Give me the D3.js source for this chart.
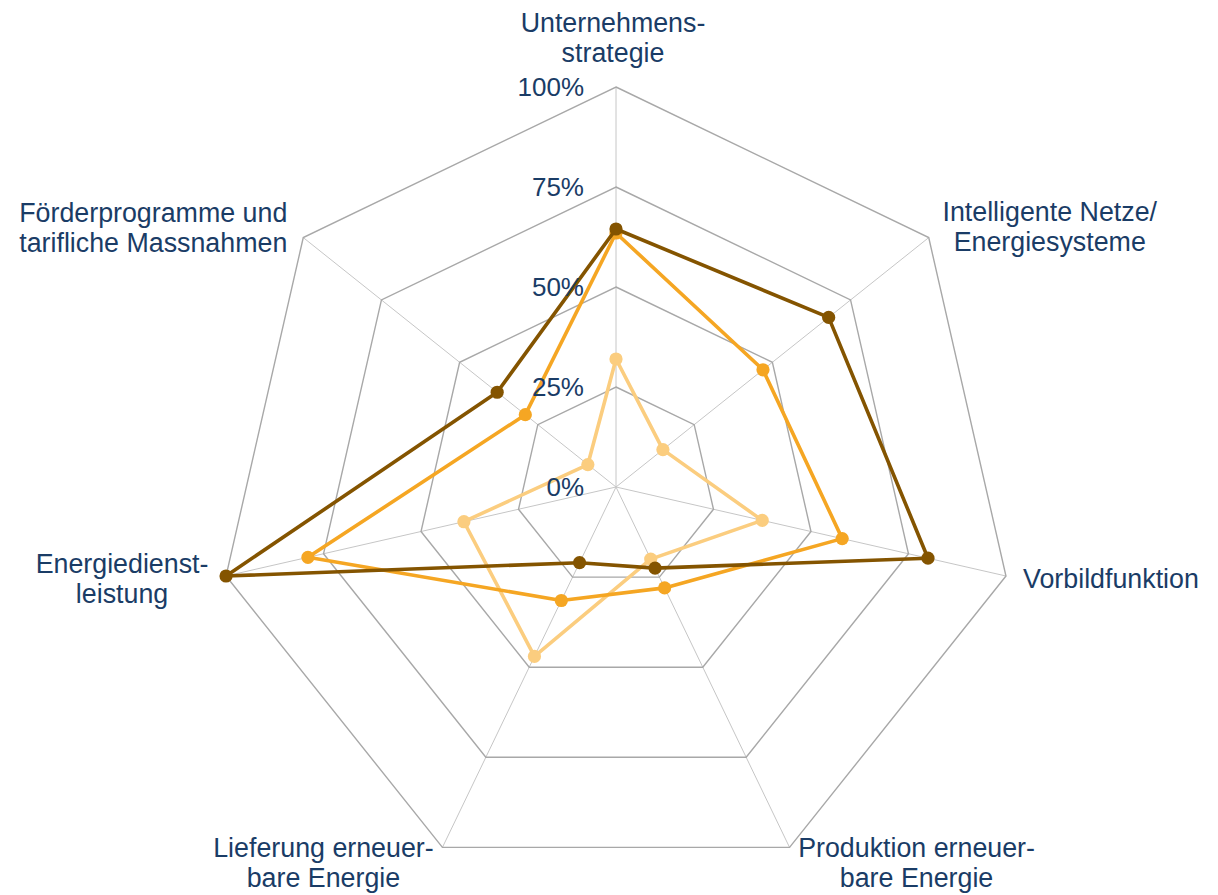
<!DOCTYPE html>
<html>
<head>
<meta charset="utf-8">
<title>Radar</title>
<style>
  body { margin: 0; background: #fff; }
  svg { display: block; }
</style>
<script src="https://d3js.org/d3.v7.min.js"></script>
</head>
<body>
<svg id="radar" width="1218" height="895"></svg>
<script>
// axes, clockwise from the top
const axes = [
  ["Unternehmens-", "strategie"],
  ["Intelligente Netze/", "Energiesysteme"],
  ["Vorbildfunktion"],
  ["Produktion erneuer-", "bare Energie"],
  ["Lieferung erneuer-", "bare Energie"],
  ["Energiedienst-", "leistung"],
  ["Förderprogramme und", "tarifliche Massnahmen"]
];
const ticks = [0, 25, 50, 75, 100];
const tickLabels = ["0%", "25%", "50%", "75%", "100%"];

// series values in %
const lightSeries = [32, 15, 37.5, 20, 47, 39, 9];
const orangeSeries = [63.5, 47, 58, 28, 31.5, 79, 29];
const brownSeries = [64.5, 68, 80, 22.5, 21, 100, 38];

const series = [
  { vals: lightSeries, color: "#fbcd7f" },
  { vals: orangeSeries, color: "#f5a623" },
  { vals: brownSeries, color: "#845400" }
];

const svg = d3.select("#radar");
const CX = 616, CY = 487, R = 400;
const TEXT = "#1a3c66";
const FONT = "'Liberation Sans', Arial, sans-serif";

const rScale = d3.scaleLinear().domain([0, 100]).range([0, R]);
const aScale = d3.scaleLinear().domain([0, axes.length]).range([0, 2 * Math.PI]);

function pt(i, v) {
  const a = aScale(i);
  return [CX + rScale(v) * Math.sin(a), CY - rScale(v) * Math.cos(a)];
}

const g = svg.append("g");

// spokes
axes.forEach((d, i) => {
  const [x, y] = pt(i, 100);
  g.append("line")
    .attr("x1", CX).attr("y1", CY).attr("x2", x).attr("y2", y)
    .style("stroke", "#c6c6c6").style("stroke-width", 1);
});

// rings
ticks.filter(t => t > 0).forEach(t => {
  const pts = axes.map((d, i) => pt(i, t));
  g.append("path")
    .attr("d", d3.line()(pts) + "Z")
    .style("fill", "none").style("stroke", "#a8a8a8").style("stroke-width", 1.4);
});

// series
const line = d3.line().curve(d3.curveLinearClosed);
series.forEach(s => {
  const pts = s.vals.map((v, i) => pt(i, v));
  g.append("path")
    .attr("d", line(pts))
    .style("fill", "none").style("stroke", s.color)
    .style("stroke-width", 3.6).style("stroke-linejoin", "round");
  g.selectAll(null).data(pts).enter().append("circle")
    .attr("cx", d => d[0]).attr("cy", d => d[1]).attr("r", 6.6)
    .style("fill", s.color);
});

// tick labels
ticks.forEach((t, k) => {
  svg.append("text")
    .attr("x", CX - 32).attr("y", CY - rScale(t))
    .attr("dy", "0.36em")
    .attr("text-anchor", "end")
    .style("font-family", FONT).style("font-size", "26px").style("fill", TEXT)
    .text(tickLabels[k]);
});

// axis label nudges from the 100% vertex: [dx, dy of first baseline]
const labelNudge = [[-3, -55], [121, -17], [105, 12], [127, 10], [-119, 10], [-104, -3], [-150, -16]];

axes.forEach((lines, i) => {
  const [x, y] = pt(i, 100);
  const t = svg.append("text")
    .attr("text-anchor", "middle")
    .style("font-family", FONT).style("font-size", "26.8px").style("fill", TEXT);
  lines.forEach((l, j) => {
    t.append("tspan")
      .attr("x", x + labelNudge[i][0])
      .attr("y", y + labelNudge[i][1] + j * 30)
      .text(l);
  });
});
</script>
</body>
</html>
